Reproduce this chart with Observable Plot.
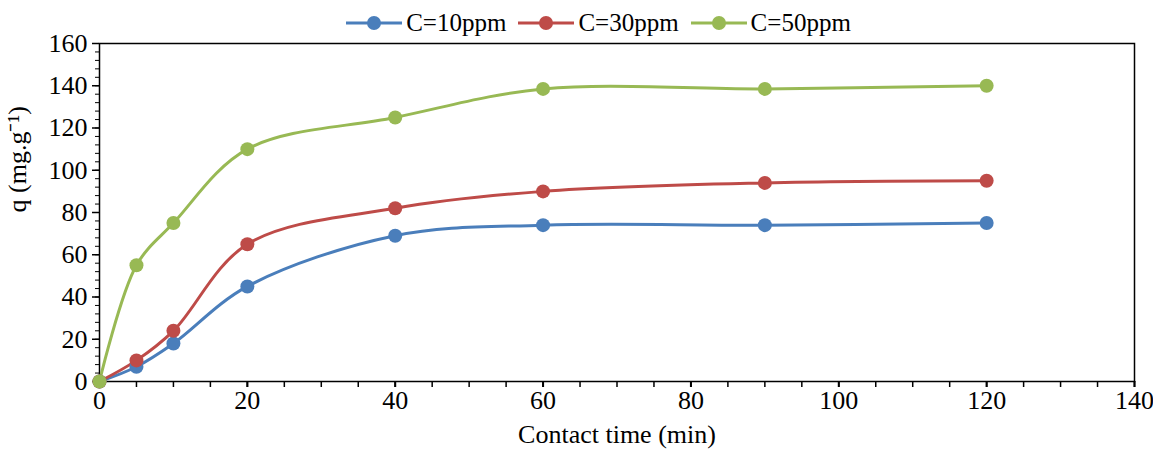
<!DOCTYPE html><html><head><meta charset="utf-8">
<script src="https://cdn.jsdelivr.net/npm/d3@7"></script>
<script src="https://cdn.jsdelivr.net/npm/@observablehq/plot@0.6"></script>
<style>body{margin:0;background:#fff;font-family:"Times New Roman",Times,"Liberation Serif",serif}#c{position:relative;width:1153px;height:457px}
#lg{position:absolute;top:9px;left:0;width:1153px;display:flex;justify-content:center;gap:12px;font-size:25px;margin-left:22px}
.it{display:flex;align-items:center;gap:4px}</style></head><body>
<div id="c"><div id="lg"></div></div>
<script>
const times=[0,5,10,20,40,60,90,120];
const q10=[0,7,18,45,69,74,74,75];
const q30=[0,10,24,65,82,90,94,95];
const q50=[0,55,75,110,125,138.5,138.5,140];
const xTicks=[0,20,40,60,80,100,120,140];
const yTicks=[0,20,40,60,80,100,120,140,160];
const names=["C=10ppm","C=30ppm","C=50ppm"];
const colors=["#4a7ebb","#be4b48","#98b954"];
const series=[q10,q30,q50];
const data=[];series.forEach((s,k)=>s.forEach((v,i)=>data.push({t:times[i],q:v,s:names[k]})));
const lg=document.getElementById("lg");
names.forEach((n,k)=>{lg.innerHTML+=`<div class="it"><svg width="56" height="16"><line x1="0" x2="56" y1="8" y2="8" stroke="${colors[k]}" stroke-width="3"/><circle cx="28" cy="8" r="7" fill="${colors[k]}"/></svg><span>${n}</span></div>`});
const FF='"Times New Roman",Times,"Liberation Serif",serif';
const p=Plot.plot({width:1153,height:457,marginLeft:99,marginRight:19,marginTop:43,marginBottom:76,style:{fontFamily:FF,fontSize:"26px",background:"#fff",color:"#000"},
x:{domain:[0,140]},y:{domain:[0,160]},
marks:[
Plot.axisX({ticks:d3.range(0,141,5),tickSize:6,strokeWidth:1.5,tickFormat:()=>"",label:null}),
Plot.axisX({ticks:d3.range(0,141,20),tickSize:6,strokeWidth:2,tickFormat:()=>"",label:null}),
Plot.axisY({ticks:yTicks,tickSize:7,strokeWidth:1.5,tickFormat:()=>"",label:null}),
Plot.axisY({ticks:d3.range(0,161,4),tickSize:4,tickFormat:()=>"",label:null}),
Plot.text(xTicks,{x:d=>d,frameAnchor:"bottom",dy:27,fontSize:26,fontFamily:FF}),
Plot.text(yTicks,{y:d=>d,frameAnchor:"left",dx:-12,textAnchor:"end",fontSize:26,fontFamily:FF}),
Plot.text(["q (mg.g⁻¹)"],{frameAnchor:"left",dx:-82,rotate:-90,fontSize:26,fontFamily:FF}),
Plot.text(["Contact time (min)"],{frameAnchor:"bottom",dy:61,fontSize:26,fontFamily:FF}),
Plot.frame({stroke:"#000",strokeWidth:1.5}),
Plot.line(data,{x:"t",y:"q",z:"s",stroke:"s",strokeWidth:3,curve:"catmull-rom"}),
Plot.dot(data,{x:"t",y:"q",fill:"s",r:7})
],color:{domain:names,range:colors}});
document.getElementById("c").appendChild(p);
</script></body></html>
